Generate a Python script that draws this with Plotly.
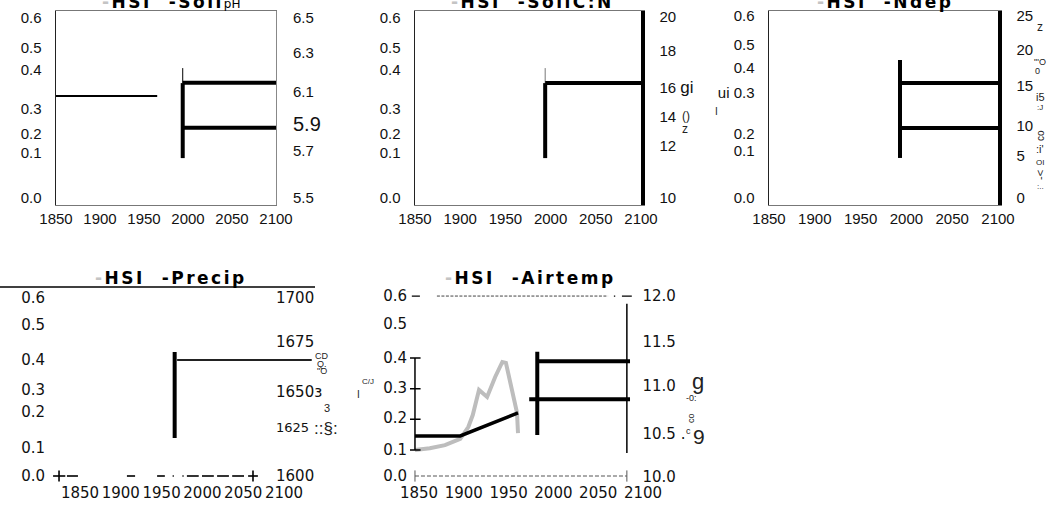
import plotly.graph_objects as go

W, H = 1050, 505

# ---------------- data ----------------
x_tick_years = [1850, 1900, 1950, 2000, 2050, 2100]
x_tick_labels = ["1850", "1900", "1950", "2000", "2050", "2100"]
hsi_labels = ["0.0", "0.1", "0.2", "0.3", "0.4", "0.5", "0.6"]

# Panel 1: Soil pH
ph_right_labels = ["5.5", "5.7", '<span style="font-size:20px">5.9</span>', "6.1", "6.3", "6.5"]
ph_hsi_years = [1850, 1965]
ph_hsi = [0.34, 0.34]
ph_bar_years = [1994, 1994]
ph_bar = [0.133, 0.383]
ph_tip = [0.383, 0.433]
ph_level_years = [1994, 2100]
ph_level_hi = [6.14, 6.14]
ph_level_lo = [5.89, 5.89]

# Panel 2: Soil C:N
cn_right_labels = ["10", "12", "14", "16 <span style=\"font-size:17px\">gi</span>", "18", "20"]
cn_bar_years = [1994, 1994]
cn_bar = [0.133, 0.383]
cn_tip = [0.383, 0.433]
cn_level_years = [1994, 2100]
cn_level = [16.35, 16.35]

# Panel 3: N deposition
nd_left_labels = ["0.0", "0.1", "0.2", "ui 0.3", "0.4", "0.5", "0.6"]
nd_right_labels = ["0", "5", "10", "15", "20", "25"]
nd_bar_years = [1993, 1993]
nd_bar = [0.132, 0.455]
nd_level_years = [1993, 2100]
nd_level_hi = [15.8, 15.8]
nd_level_lo = [9.6, 9.6]

# Panel 4: Precipitation
pr_right_labels = ["1600", '<span style="font-size:13px">1625</span>',
                   "1650\u025c", "1675", "1700"]
pr_bar_years = [1966, 1966]
pr_bar = [0.128, 0.418]
pr_hsi_years = [1969, 2134]
pr_hsi = [0.391, 0.391]
pr_base_years = [1817, 1832, None, 1834, 1847.5, None, 1907.5, 1917.5, None, 1944.5, 1954, None,
                 1963.5, 1965, None, 1975.5, 1977, None, 1981, 1995.5, None, 1999.5, 2014, None,
                 2018, 2032.5, None, 2036.5, 2051, None, 2056, 2068]
pr_base_cross_years = [1824.3, 2062]

# Panel 5: Air temperature
at_right_labels = ["10.0", "10.5 .", "11.0", "11.5", "12.0"]
at_hsi_years = [1845.5, 1862, 1879, 1896, 1905, 1910, 1917, 1926, 1935, 1943, 1947, 1954, 1959.4, 1960.5]
at_hsi = [0.100, 0.106, 0.116, 0.136, 0.175, 0.214, 0.296, 0.273, 0.338, 0.387, 0.384, 0.296, 0.221, 0.155]
at_temp_years = [1845.5, 1896, 1960.5]
at_temp = [0.146, 0.146, 0.221]
at_bar_years = [1982, 1982]
at_bar = [0.149, 0.420]
at_hi_years = [1982, 2085.5]
at_level_hi = [11.28, 11.28]
at_lo_years = [1973, 2085.5]
at_level_lo = [10.86, 10.86]
at_rline_years = [2082, 2082]
at_rline = [0.090, 0.577]
at_axis_years = [1845.5, 1845.5]
at_axis = [0.1, 0.4]
at_axis_ticks = [0.1, 0.2, 0.3, 0.4]
at_top_years = [1842, 1851, None, 2067.5, 2069, None, 2076.5, 2087.5]
at_top_dash_years = [1870, 2061]
at_top_level = 0.602
at_bottom_years = [1845.5, 2082]
at_bottom_level = 0.0152


# ---------------- layout helpers ----------------
def lin(p, a, b):
    (p0, v0), (p1, v1) = a, b
    return v0 + (p - p0) * (v1 - v0) / (p1 - p0)


TOP_FONT = dict(family="Liberation Sans, Arial", size=15, color="#111")
BOT_FONT = dict(family="DejaVu Sans", size=15, color="#111")

panels = [
    dict(x=(56, 276), y=(11, 205), xm=((56, 1850), (276, 2100)),
         lm=((198, 0.0), (18, 0.6)), rm=((198, 5.5), (18, 6.5)),
         lrows=[198, 153, 134, 109, 70, 48, 18], ltext=hsi_labels,
         rrows=[198, 151, 126, 92, 53, 18], rtext=ph_right_labels,
         font=TOP_FONT, box=True, rline=dict(color="#888", width=1), lso=10, rso=13, xso=0),
    dict(x=(415, 641), y=(11, 205), xm=((415, 1850), (641, 2100)),
         lm=((198, 0.0), (18, 0.6)), rm=((198, 10.0), (17, 20.0)),
         lrows=[198, 153, 134, 109, 70, 48, 18], ltext=hsi_labels,
         rrows=[198, 146, 117, 88, 51, 17], rtext=cn_right_labels,
         font=TOP_FONT, box=True, rline=dict(color="#000", width=3.5), lso=10, rso=12, xso=0),
    dict(x=(769, 998), y=(11, 205), xm=((769, 1850), (998, 2100)),
         lm=((198, 0.0), (16, 0.6)), rm=((198, 0.0), (16, 25.0)),
         lrows=[198, 151, 134, 93, 68, 45, 16], ltext=nd_left_labels,
         rrows=[198, 156, 126, 86, 50, 16], rtext=nd_right_labels,
         font=TOP_FONT, box=True, rline=dict(color="#000", width=3.5), lso=10, rso=12, xso=0),
    dict(x=(46, 318), y=(290, 482), xm=((80, 1850), (284, 2100)),
         lm=((476, 0.0), (298, 0.6)), rm=((476, 1600), (298, 1700)),
         lrows=[476, 448, 412, 390, 360, 325, 298], ltext=hsi_labels,
         rrows=[476, 427, 392, 342, 298], rtext=pr_right_labels,
         font=BOT_FONT, box=False, lso=0, rso=-43, xso=0),
    dict(x=(410, 643.5), y=(290, 482), xm=((419, 1850), (643, 2100)),
         lm=((450, 0.1), (358, 0.4)), rm=((477, 10.0), (296, 12.0)),
         lrows=[476, 450, 418, 388, 358, 324, 296], ltext=hsi_labels,
         rrows=[477, 434, 386, 342, 296], rtext=at_right_labels,
         font=BOT_FONT, box=False, lso=2, rso=-2, xso=0),
]

fig = go.Figure()
layout = dict(width=W, height=H, margin=dict(l=0, r=0, t=0, b=0, pad=0, autoexpand=False),
              autosize=False, paper_bgcolor="white", plot_bgcolor="rgba(0,0,0,0)", showlegend=False)

for i, p in enumerate(panels, start=1):
    xk = "xaxis" if i == 1 else f"xaxis{i}"
    xr = "x" if i == 1 else f"x{i}"
    li, ri = 2 * i - 1, 2 * i
    lk = "yaxis" if li == 1 else f"yaxis{li}"
    lr = "y" if li == 1 else f"y{li}"
    rk, rr = f"yaxis{ri}", f"y{ri}"
    p["xr"], p["lr"], p["rr"] = xr, lr, rr
    x0, x1 = p["x"]
    ytop, ybot = p["y"]
    layout[xk] = dict(domain=[x0 / W, x1 / W], anchor=lr, automargin=False,
                      range=[lin(x0, *p["xm"]), lin(x1, *p["xm"])],
                      tickvals=x_tick_years, ticktext=x_tick_labels, ticks="", tickangle=0,
                      tickfont=p["font"], showgrid=False, zeroline=False,
                      ticklabelstandoff=p["xso"],
                      showline=p["box"], mirror=p["box"], linecolor="#777", linewidth=1)
    layout[lk] = dict(domain=[1 - ybot / H, 1 - ytop / H], anchor=xr, automargin=False,
                      range=[lin(ybot, *p["lm"]), lin(ytop, *p["lm"])],
                      tickvals=[lin(r, *p["lm"]) for r in p["lrows"]], ticktext=p["ltext"],
                      ticks="", tickfont=p["font"], showgrid=False, zeroline=False,
                      showline=p["box"], linecolor="#222", linewidth=1.5,
                      ticklabelstandoff=p["lso"])
    rcfg = dict(overlaying=lr, side="right", anchor=xr, automargin=False,
                range=[lin(ybot, *p["rm"]), lin(ytop, *p["rm"])],
                tickvals=[lin(r, *p["rm"]) for r in p["rrows"]], ticktext=p["rtext"],
                ticks="", tickfont=p["font"], showgrid=False, zeroline=False,
                ticklabelstandoff=p["rso"])
    if p.get("rline"):
        rcfg.update(showline=True, linecolor=p["rline"]["color"], linewidth=p["rline"]["width"])
    layout[rk] = rcfg
    # register the right axis
    fig.add_trace(go.Scatter(x=[None], y=[None], xaxis=xr, yaxis=rr, hoverinfo="skip"))


def line(px, xs, ys, right=False, color="#000", width=4, dash=None, mode="lines", marker=None):
    fig.add_trace(go.Scatter(x=xs, y=ys, xaxis=px["xr"], yaxis=px["rr"] if right else px["lr"],
                             mode=mode, line=dict(color=color, width=width, dash=dash),
                             marker=marker, hoverinfo="skip", connectgaps=False))


P1, P2, P3, P4, P5 = panels
# Panel 1
line(P1, ph_hsi_years, ph_hsi, width=2)
line(P1, ph_bar_years, ph_tip, width=1)
line(P1, ph_bar_years, ph_bar, width=4)
line(P1, ph_level_years, ph_level_hi, right=True)
line(P1, ph_level_years, ph_level_lo, right=True)
# Panel 2
line(P2, cn_bar_years, cn_tip, width=1, color="#777")
line(P2, cn_bar_years, cn_bar, width=4)
line(P2, cn_level_years, cn_level, right=True)
# Panel 3
line(P3, nd_bar_years, nd_bar, width=4)
line(P3, nd_level_years, nd_level_hi, right=True)
line(P3, nd_level_years, nd_level_lo, right=True)
# Panel 4
line(P4, pr_bar_years, pr_bar, width=4)
line(P4, pr_hsi_years, pr_hsi, width=2, color="#222")
line(P4, pr_base_years, [0.0 if v is not None else None for v in pr_base_years], width=1.6)
line(P4, pr_base_cross_years, [0.0] * len(pr_base_cross_years), mode="markers",
     marker=dict(symbol="line-ns", size=8, line=dict(color="#000", width=1.6)))
# Panel 5
line(P5, at_hsi_years, at_hsi, color="#bdbdbd", width=4)
line(P5, at_temp_years, at_temp, width=3.5)
line(P5, at_axis_years, at_axis, width=1.5)
line(P5, [at_axis_years[0]] * len(at_axis_ticks), at_axis_ticks, mode="markers",
     marker=dict(symbol="line-ew", size=8, line=dict(color="#000", width=1.5)))
line(P5, at_bar_years, at_bar, width=4)
line(P5, at_hi_years, at_level_hi, right=True)
line(P5, at_lo_years, at_level_lo, right=True)
line(P5, at_rline_years, at_rline, width=1.5)
line(P5, at_top_years, [at_top_level if v is not None else None for v in at_top_years], width=1.3)
line(P5, at_top_dash_years, [at_top_level] * 2, width=1, color="#444", dash="3px,1.5px")
line(P5, at_bottom_years, [at_bottom_level] * 2, width=1, color="#555", dash="4px,2px",
     mode="lines+markers", marker=dict(symbol="line-ns", size=8, line=dict(color="#555", width=1)))

# ---------------- titles (legend-like) ----------------
SP = "\u00a0\u00a0"


def title(var_html):
    return ('<b><span style="letter-spacing:2.5px"><span style="color:#c4c4c4">-</span>HSI'
            + SP + '-' + var_html + '</span></b>')


annotations = []
title_specs = [
    (title('Soil<span style="font-size:12px;font-weight:normal;letter-spacing:0px">pH</span>'), 171, 14),
    (title("SoilC:N"), 532, 14),
    (title("Ndep"), 885, 14),
    (title("Precip"), 171, 290),
    (title("Airtemp"), 530, 290),
]
for txt, cx, by in title_specs:
    annotations.append(dict(text=txt, x=cx / W, y=1 - by / H, xref="paper", yref="paper",
                            xanchor="center", yanchor="bottom", showarrow=False,
                            font=dict(family="DejaVu Sans", size=17, color="#000")))

garble = [
    ("()", 686, 116, 12, 0), ("z", 685, 129, 12, 0),
    ("I", 716, 112, 10, 0),
    ("z", 1040, 27, 12, 0), ("\"'O", 1040, 62, 9, 0), ("0", 1037, 71, 9, 0),
    ("i5", 1040, 97, 11, 0), (":J", 1040, 108, 8, 0), ("co", 1040, 136, 10, -90),
    (":i'", 1040, 149, 11, 0), ("OI", 1040, 162, 8, 0), ("-&lt;", 1040, 175, 11, -90),
    (":..", 1040, 186, 8, 0),
    ("CD", 322, 356, 9, 0), ("Q.", 322, 364, 9, 0), ("\"O", 322, 371, 9, 0),
    ("3", 327, 408, 11, 0), ("::§:", 326, 428, 17, 0),
    ("C/J", 368, 381, 8, 0), ("I", 358, 394, 10, 0),
    ("g", 698, 381, 22, 0), ("-0:", 692, 398, 9, 0), ("co", 691, 418, 9, -90),
    ("c", 688, 431, 9, 0), ("9", 699, 436, 21, 0),
]
for txt, gx, gy, sz, ang in garble:
    annotations.append(dict(text=txt, x=gx / W, y=1 - gy / H, xref="paper", yref="paper",
                            xanchor="center", yanchor="middle", showarrow=False, textangle=ang,
                            font=dict(family="Liberation Sans, Arial", size=sz, color="#222")))

layout["annotations"] = annotations
layout["shapes"] = [dict(type="line", xref="paper", yref="paper", x0=0, x1=315 / W,
                         y0=1 - 287 / H, y1=1 - 287 / H, line=dict(color="#000", width=1.5))]

fig.update_layout(**layout)
fig.write_html("out.html", config={"displayModeBar": False, "staticPlot": True},
               post_script="document.body.style.margin='0';document.body.style.overflow='hidden';")
